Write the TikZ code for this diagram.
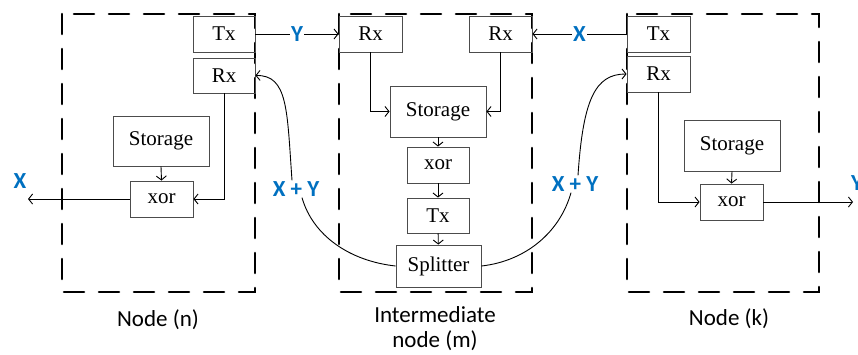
\documentclass[tikz,border=0pt]{standalone}
\usepackage{fontspec}
\setmainfont{Liberation Serif}
\newfontfamily\calib{Carlito}
\usetikzlibrary{arrows.meta}
\definecolor{lblue}{HTML}{0070C0}

\begin{document}
\begin{tikzpicture}[x=1pt, y=-1pt,
  blk/.style={draw=black!70, line width=0.9pt, inner sep=0pt, font=\fontsize{21}{24}\selectfont},
  nodebox/.style={draw, line width=2.6pt, line cap=round, dash pattern=on 20pt off 15pt},
  link/.style={draw, line width=0.9pt, -{Straight Barb[length=4pt,width=10pt]}},
  bluelbl/.style={text=lblue, font=\calib\bfseries\fontsize{23}{26}\selectfont, inner sep=1pt},
  caption/.style={font=\calib\fontsize{23}{25}\selectfont, align=center}]
\useasboundingbox (0,0) rectangle (858,354);
% the three dashed nodes
\draw[nodebox] (62,14) rectangle (255,292);
\draw[nodebox] (339,14) rectangle (532,292);
\draw[nodebox] (627,14) rectangle (819,292);
% node (n)
\node[blk, minimum width=62pt, minimum height=36pt] (txn) at (224,34) {Tx};
\node[blk, minimum width=62pt, minimum height=35pt] (rxn) at (224,75.5) {Rx};
\node[blk, minimum width=96pt, minimum height=50pt] (stn) at (161,141) {Storage};
\node[blk, minimum width=63pt, minimum height=36pt] (xorn) at (161.5,199) {xor};
% intermediate node (m)
\node[blk, minimum width=63pt, minimum height=36pt] (rxam) at (370.5,34) {Rx};
\node[blk, minimum width=63pt, minimum height=36pt] (rxbm) at (500.5,34) {Rx};
\node[blk, minimum width=96pt, minimum height=51pt] (stm) at (438,111.5) {Storage};
\node[blk, minimum width=62pt, minimum height=36pt] (xorm) at (438,165) {xor};
\node[blk, minimum width=62pt, minimum height=35pt] (txm) at (438,215.5) {Tx};
\node[blk, minimum width=85pt, minimum height=42pt] (splm) at (438.5,266) {Splitter};
% node (k)
\node[blk, minimum width=63pt, minimum height=36pt] (txk) at (658.5,34) {Tx};
\node[blk, minimum width=63pt, minimum height=36pt] (rxk) at (658.5,74) {Rx};
\node[blk, minimum width=96pt, minimum height=51pt] (stk) at (732,145.5) {Storage};
\node[blk, minimum width=63pt, minimum height=36pt] (xork) at (731.5,202) {xor};
% links between the nodes
\draw[link] (txn.east) -- node[bluelbl, fill=white] (lbly) {Y} (rxam.west);
\draw[link] (txk.west) -- node[bluelbl, fill=white] (lblx) {X} (rxbm.east);
% inside node (n)
\draw[link] (rxn.south) |- (xorn.east);
\draw[link] (stn.south) -- (xorn.north);
\coordinate (outx) at (28,199);
\draw[link] (xorn.west) -- (outx);
\node[bluelbl] (lblxo) at (20,181) {X};
% inside node (m)
\draw[link] (rxam.south) |- (stm.west);
\draw[link] (rxbm.south) |- (stm.east);
\draw[link] (stm) -- (xorm);
\draw[link] (xorm) -- (txm);
\draw[link] (txm) -- (splm);
% inside node (k)
\draw[link] (rxk.south) |- (xork.west);
\draw[link] (stk.south) -- (xork.north);
\coordinate (outy) at (853,202);
\draw[link] (xork.east) -- (outy);
\node[bluelbl, anchor=west] (lblyo) at (850,183) {Y};
% splitter outputs, X + Y
\node[bluelbl] (sumn) at (296,189) {X + Y};
\node[bluelbl] (sumk) at (575,184) {X + Y};
\draw[line width=0.9pt] (splm.west) .. controls (350,261) and (313,236) .. ([xshift=6pt]sumn.south);
\draw[link] ([xshift=-4pt]sumn.north) .. controls (287,110) and (288,75) .. (rxn.east);
\draw[line width=0.9pt] (splm.east) .. controls (526,261) and (560,232) .. ([xshift=-4pt]sumk.south);
\draw[link] ([xshift=3pt]sumk.north) .. controls (583,100) and (595,74) .. (rxk.west);
% captions
\node[caption] (capn) at (158,320) {Node (n)};
\node[caption] (capm) at (435,329) {Intermediate\\node (m)};
\node[caption] (capk) at (729,319) {Node (k)};
\end{tikzpicture}
\end{document}
